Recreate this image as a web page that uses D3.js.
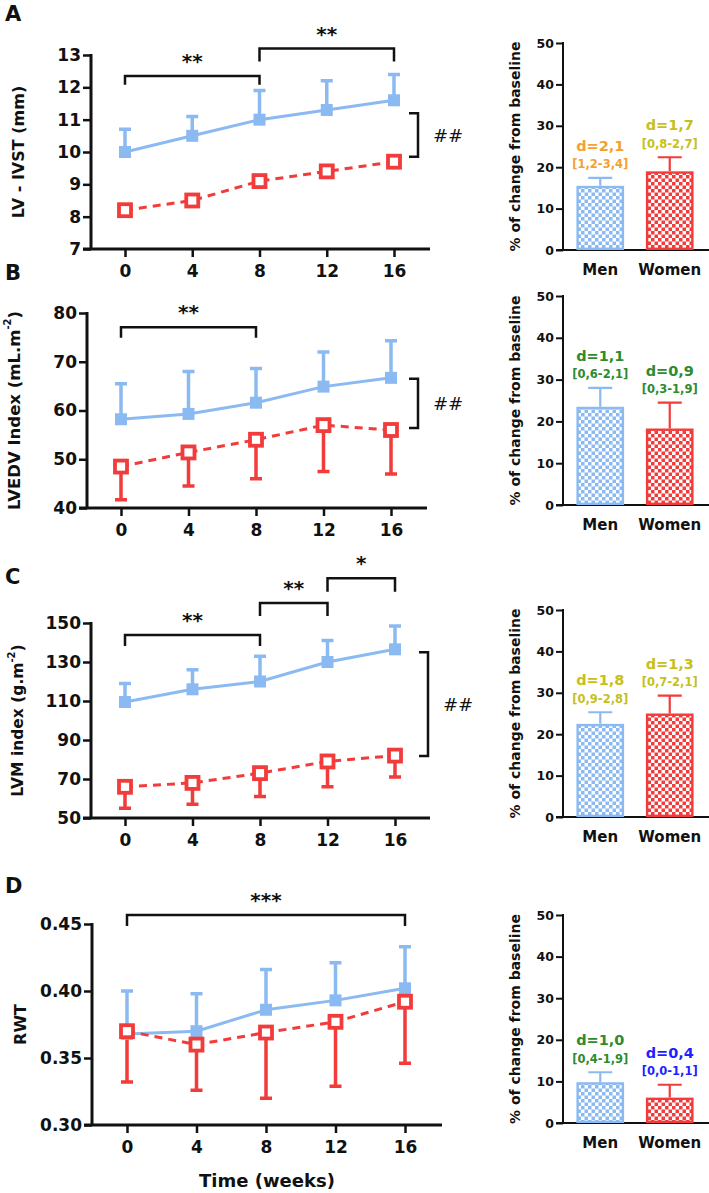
<!DOCTYPE html>
<html>
<head>
<meta charset="utf-8">
<script src="https://cdn.jsdelivr.net/npm/d3@7"></script>
<style>
  body { margin: 0; background: #fff; }
  text { font-family: "DejaVu Sans", sans-serif; font-weight: bold; fill: #111; }
</style>
</head>
<body>
<div id="chart"></div>
<script>
var width = 709,
    height = 1193;

var blue = "#8bbaf2",
    red = "#f23b3b";

// ---- data ----
var weeks = [0, 4, 8, 12, 16];

var ivstMen = [10.0, 10.5, 11.0, 11.3, 11.6];
var ivstMenUpper = [10.7, 11.1, 11.9, 12.2, 12.4];
var ivstWomen = [8.2, 8.5, 9.1, 9.4, 9.7];
var ivstWomenLower = [8.2, 8.5, 9.1, 9.4, 9.7];

var lvedvMen = [58.2, 59.3, 61.6, 64.9, 66.7];
var lvedvMenUpper = [65.5, 68.0, 68.6, 72.0, 74.3];
var lvedvWomen = [48.5, 51.4, 54.0, 57.0, 56.0];
var lvedvWomenLower = [41.7, 44.5, 46.0, 47.5, 47.0];

var lvmMen = [109.5, 116, 120, 130, 136.5];
var lvmMenUpper = [119, 126, 133, 141, 148.5];
var lvmWomen = [66, 68, 73, 79, 82];
var lvmWomenLower = [55, 57, 61, 66, 71];

var rwtMen = [0.368, 0.370, 0.386, 0.393, 0.402];
var rwtMenUpper = [0.400, 0.398, 0.416, 0.421, 0.433];
var rwtWomen = [0.370, 0.360, 0.369, 0.377, 0.392];
var rwtWomenLower = [0.332, 0.326, 0.320, 0.329, 0.346];

var groups = ["Men", "Women"];
var pctMen = [15.5, 23.5, 22.5, 9.8];
var pctMenUpper = [17.4, 28.0, 25.3, 12.2];
var pctWomen = [19.0, 18.3, 25.0, 6.1];
var pctWomenUpper = [22.4, 24.5, 29.3, 9.2];

var menD = ["d=2,1", "d=1,1", "d=1,8", "d=1,0"];
var menCI = ["[1,2-3,4]", "[0,6-2,1]", "[0,9-2,8]", "[0,4-1,9]"];
var womenD = ["d=1,7", "d=0,9", "d=1,3", "d=0,4"];
var womenCI = ["[0,8-2,7]", "[0,3-1,9]", "[0,7-2,1]", "[0,0-1,1]"];
var menLabelColor = ["#f5a032", "#2e8b2e", "#c6c01c", "#2e8b2e"];
var womenLabelColor = ["#c6c01c", "#2e8b2e", "#c6c01c", "#1f1fff"];

// significance brackets: [from week, to week, bracket level, tip level, stars]
var sigA = [[0, 8, 12.35, 12.08, "**"], [8, 16, 13.2, 12.8, "**"]];
var sigB = [[0, 8, 77.1, 74.9, "**"]];
var sigC = [[0, 8, 143.8, 138.2, "**"], [8, 12, 160.3, 153.6, "**"], [12, 16, 173, 166, "*"]];
var sigD = [[0, 16, 0.4567, 0.4485, "***"]];

// between-group brackets (##): [upper level, lower level]
var hashA = [11.2, 9.85];
var hashB = [66.5, 56.4];
var hashC = [135, 81.8];

var svg = d3.select("#chart").append("svg")
    .attr("width", width)
    .attr("height", height);

// checker patterns for the bars
var defs = svg.append("defs");
[["checkBlue", blue], ["checkRed", red]].forEach(function(p) {
  var pat = defs.append("pattern")
      .attr("id", p[0])
      .attr("patternUnits", "userSpaceOnUse")
      .attr("width", 7).attr("height", 7);
  pat.append("rect").attr("width", 7).attr("height", 7).attr("fill", "#fff");
  pat.append("rect").attr("width", 3.5).attr("height", 3.5).attr("fill", p[1]);
  pat.append("rect").attr("x", 3.5).attr("y", 3.5).attr("width", 3.5).attr("height", 3.5).attr("fill", p[1]);
});

var leftPanels = [
  { letter: "A", letterY: 21, top: 55, bottom: 249, axisX: 91, x0: 125, x16: 394, xEnd: 430,
    domain: [7, 13], ticks: d3.range(7, 14, 1), fmt: d3.format("d"),
    label: ["LV - IVST (mm)"], labelX: 18, labelSize: 16,
    men: ivstMen, menUp: ivstMenUpper, women: ivstWomen, womenLo: ivstWomenLower,
    sig: sigA, hash: hashA, hashX: 418 },
  { letter: "B", letterY: 280, top: 313, bottom: 508, axisX: 87, x0: 121, x16: 391, xEnd: 427,
    domain: [40, 80], ticks: d3.range(40, 81, 10), fmt: d3.format("d"),
    label: ["LVEDV Index (mL.m", "-2", ")"], labelX: 14, labelSize: 16.5,
    men: lvedvMen, menUp: lvedvMenUpper, women: lvedvWomen, womenLo: lvedvWomenLower,
    sig: sigB, hash: hashB, hashX: 418 },
  { letter: "C", letterY: 584, top: 623, bottom: 818, axisX: 91, x0: 125, x16: 395, xEnd: 430,
    domain: [50, 150], ticks: d3.range(50, 151, 20), fmt: d3.format("d"),
    label: ["LVM index (g.m", "-2", ")"], labelX: 18, labelSize: 15.5,
    men: lvmMen, menUp: lvmMenUpper, women: lvmWomen, womenLo: lvmWomenLower,
    sig: sigC, hash: hashC, hashX: 428 },
  { letter: "D", letterY: 893, top: 924, bottom: 1125, axisX: 92, x0: 127, x16: 405, xEnd: 442,
    domain: [0.30, 0.45], ticks: [0.30, 0.35, 0.40, 0.45], fmt: d3.format(".2f"),
    label: ["RWT"], labelX: 20, labelSize: 16,
    men: rwtMen, menUp: rwtMenUpper, women: rwtWomen, womenLo: rwtWomenLower,
    sig: sigD, hash: null }
];

var rightPanels = [
  { top: 43, bottom: 250 },
  { top: 296, bottom: 505 },
  { top: 610, bottom: 817 },
  { top: 915, bottom: 1123 }
];

leftPanels.forEach(drawLine);
rightPanels.forEach(drawBars);

svg.append("text")
    .attr("x", 267)
    .attr("y", 1187)
    .attr("text-anchor", "middle")
    .style("font-size", "18px")
    .text("Time (weeks)");

function drawLine(p) {
  var g = svg.append("g");
  var x = d3.scaleLinear().domain([0, 16]).range([p.x0, p.x16]);
  var y = d3.scaleLinear().domain(p.domain).range([p.bottom, p.top]);

  g.append("text")
      .attr("x", 5)
      .attr("y", p.letterY)
      .style("font-size", "21px")
      .text(p.letter);

  // axes
  var ya = g.append("g")
      .attr("transform", "translate(" + p.axisX + ",0)")
      .call(d3.axisLeft(y).tickValues(p.ticks).tickFormat(p.fmt).tickSize(8).tickSizeOuter(0));
  ya.select(".domain").remove();
  ya.selectAll("line").attr("stroke", "#111").attr("stroke-width", 2.5);
  ya.selectAll("text").attr("x", -10).style("font-size", "17px").attr("fill", "#111");

  var xa = g.append("g")
      .attr("transform", "translate(0," + p.bottom + ")")
      .call(d3.axisBottom(x).tickValues(weeks).tickSize(8).tickSizeOuter(0));
  xa.select(".domain").remove();
  xa.selectAll("line").attr("stroke", "#111").attr("stroke-width", 2.5);
  xa.selectAll("text").attr("y", 16).style("font-size", "17px").attr("fill", "#111");

  g.append("line")
      .attr("x1", p.axisX).attr("x2", p.axisX)
      .attr("y1", p.top - 1).attr("y2", p.bottom)
      .attr("stroke", "#111").attr("stroke-width", 3);
  g.append("line")
      .attr("x1", p.axisX - 8).attr("x2", p.xEnd)
      .attr("y1", p.bottom).attr("y2", p.bottom)
      .attr("stroke", "#111").attr("stroke-width", 3);

  // y label
  var lab = g.append("text")
      .attr("transform", "translate(" + p.labelX + "," + ((p.top + p.bottom) / 2) + ")rotate(-90)")
      .attr("text-anchor", "middle")
      .attr("dominant-baseline", "central")
      .style("font-size", p.labelSize + "px");
  lab.append("tspan").text(p.label[0]);
  if (p.label.length > 1) {
    lab.append("tspan").attr("dy", -7).style("font-size", "10px").text(p.label[1]);
    lab.append("tspan").attr("dy", 7).text(p.label[2]);
  }

  // error bars
  var cap = 6;
  var errs = g.append("g").attr("stroke-width", 3.5).attr("fill", "none");
  errs.selectAll(".errMen")
      .data(weeks)
    .enter().append("path")
      .attr("stroke", blue)
      .attr("d", function(d, i) {
        return "M" + x(d) + "," + y(p.men[i]) + "V" + y(p.menUp[i]) +
               "M" + (x(d) - cap) + "," + y(p.menUp[i]) + "H" + (x(d) + cap);
      });
  errs.selectAll(".errWomen")
      .data(weeks.filter(function(d, i) { return p.womenLo[i] < p.women[i]; }))
    .enter().append("path")
      .attr("stroke", red)
      .attr("d", function(d) {
        var i = weeks.indexOf(d);
        return "M" + x(d) + "," + y(p.women[i]) + "V" + y(p.womenLo[i]) +
               "M" + (x(d) - cap) + "," + y(p.womenLo[i]) + "H" + (x(d) + cap);
      });

  var line = d3.line()
      .x(function(d) { return x(d[0]); })
      .y(function(d) { return y(d[1]); });

  g.append("path")
      .attr("d", line(d3.zip(weeks, p.men)))
      .attr("fill", "none")
      .attr("stroke", blue)
      .attr("stroke-width", 3);
  g.append("path")
      .attr("d", line(d3.zip(weeks, p.women)))
      .attr("fill", "none")
      .attr("stroke", red)
      .attr("stroke-width", 3)
      .attr("stroke-dasharray", "8,6");

  g.selectAll(".mMen")
      .data(d3.zip(weeks, p.men))
    .enter().append("rect")
      .attr("x", function(d) { return x(d[0]) - 6; })
      .attr("y", function(d) { return y(d[1]) - 6; })
      .attr("width", 12).attr("height", 12)
      .attr("fill", blue);
  g.selectAll(".mWomen")
      .data(d3.zip(weeks, p.women))
    .enter().append("rect")
      .attr("x", function(d) { return x(d[0]) - 6; })
      .attr("y", function(d) { return y(d[1]) - 6; })
      .attr("width", 12).attr("height", 12)
      .attr("fill", "#fff")
      .attr("stroke", red)
      .attr("stroke-width", 3.8);

  // significance brackets
  p.sig.forEach(function(s) {
    g.append("path")
        .attr("d", "M" + x(s[0]) + "," + y(s[3]) + "V" + y(s[2]) + "H" + x(s[1]) + "V" + y(s[3]))
        .attr("fill", "none")
        .attr("stroke", "#111")
        .attr("stroke-width", 2.5);
    g.append("text")
        .attr("x", (x(s[0]) + x(s[1])) / 2)
        .attr("y", y(s[2]) - 8)
        .attr("text-anchor", "middle")
        .style("font-size", "20px")
        .text(s[4]);
  });

  if (p.hash) {
    var h1 = y(p.hash[0]), h2 = y(p.hash[1]);
    g.append("path")
        .attr("d", "M" + (p.hashX - 9) + "," + h1 + "H" + p.hashX + "V" + h2 + "H" + (p.hashX - 9))
        .attr("fill", "none")
        .attr("stroke", "#111")
        .attr("stroke-width", 2.5);
    g.append("text")
        .attr("x", p.hashX + 15)
        .attr("y", (h1 + h2) / 2)
        .attr("dominant-baseline", "central")
        .style("font-size", "18px")
        .style("font-weight", "normal")
        .style("font-style", "italic")
        .text("##");
  }
}

function drawBars(p, k) {
  var g = svg.append("g");
  var axisX = 563;
  var x = d3.scaleBand().domain(groups).range([566, 704]).paddingInner(0.314).paddingOuter(0.15);
  var y = d3.scaleLinear().domain([0, 50]).range([p.bottom, p.top]);

  var ya = g.append("g")
      .attr("transform", "translate(" + axisX + ",0)")
      .call(d3.axisLeft(y).ticks(5).tickSize(7).tickSizeOuter(0));
  ya.select(".domain").remove();
  ya.selectAll("line").attr("stroke", "#111").attr("stroke-width", 2);
  ya.selectAll("text").attr("x", -9).style("font-size", "12.5px").attr("fill", "#111");

  g.append("line")
      .attr("x1", axisX).attr("x2", axisX)
      .attr("y1", p.top - 1).attr("y2", p.bottom)
      .attr("stroke", "#111").attr("stroke-width", 2);
  g.append("line")
      .attr("x1", axisX - 7).attr("x2", width)
      .attr("y1", p.bottom).attr("y2", p.bottom)
      .attr("stroke", "#111").attr("stroke-width", 2);

  g.append("text")
      .attr("transform", "translate(515," + ((p.top + p.bottom) / 2) + ")rotate(-90)")
      .attr("text-anchor", "middle")
      .attr("dominant-baseline", "central")
      .style("font-size", "14px")
      .text("% of change from baseline");

  var rows = [
    { name: "Men", v: pctMen[k], up: pctMenUpper[k], color: blue, fill: "url(#checkBlue)",
      d: menD[k], ci: menCI[k], lc: menLabelColor[k] },
    { name: "Women", v: pctWomen[k], up: pctWomenUpper[k], color: red, fill: "url(#checkRed)",
      d: womenD[k], ci: womenCI[k], lc: womenLabelColor[k] }
  ];

  rows.forEach(function(r) {
    var bx = x(r.name), bw = x.bandwidth(), cx = bx + bw / 2;
    g.append("path")
        .attr("d", "M" + cx + "," + y(r.v) + "V" + y(r.up) + "M" + (cx - 12) + "," + y(r.up) + "H" + (cx + 12))
        .attr("stroke", r.color)
        .attr("stroke-width", 2.2)
        .attr("fill", "none");
    g.append("rect")
        .attr("x", bx + 1.2)
        .attr("y", y(r.v) + 1.2)
        .attr("width", bw - 2.4)
        .attr("height", y(0) - y(r.v) - 2.4)
        .attr("fill", r.fill)
        .attr("stroke", r.color)
        .attr("stroke-width", 2.4);
    g.append("text")
        .attr("x", cx)
        .attr("y", p.bottom + 25)
        .attr("text-anchor", "middle")
        .style("font-size", "15px")
        .text(r.name);
    g.append("text")
        .attr("x", cx)
        .attr("y", y(r.up) - 27)
        .attr("text-anchor", "middle")
        .style("font-size", "14.5px")
        .style("fill", r.lc)
        .text(r.d);
    g.append("text")
        .attr("x", cx)
        .attr("y", y(r.up) - 9.5)
        .attr("text-anchor", "middle")
        .style("font-size", "11.5px")
        .style("fill", r.lc)
        .text(r.ci);
  });
}
</script>
</body>
</html>
